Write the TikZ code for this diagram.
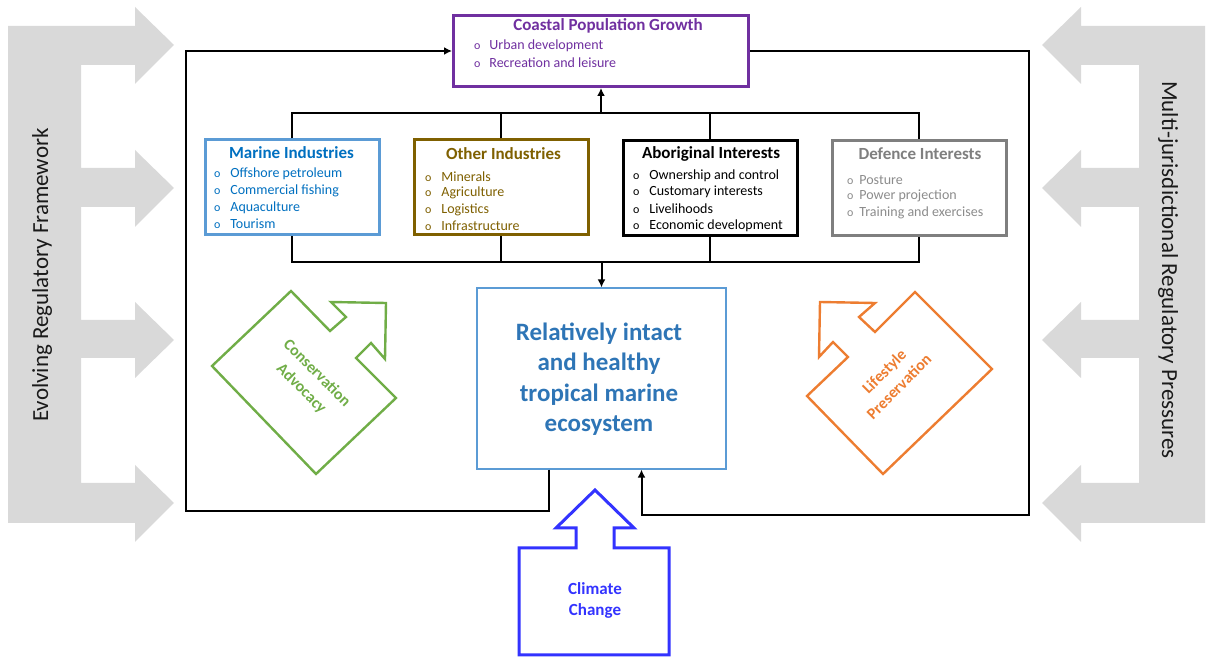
\documentclass[tikz,border=0pt]{standalone}
\usepackage{fontspec}
\setmainfont{Carlito}
\usetikzlibrary{arrows.meta,calc}
\definecolor{mbord}{HTML}{5B9BD5}
\definecolor{mtext}{HTML}{0070C0}
\definecolor{gold}{HTML}{7F6000}
\definecolor{dgray}{HTML}{7F7F7F}
\definecolor{lgray}{HTML}{8C8C8C}
\definecolor{purp}{HTML}{7030A0}
\definecolor{ecot}{HTML}{2E75B6}
\definecolor{cgreen}{HTML}{70AD47}
\definecolor{corange}{HTML}{ED7D31}
\definecolor{cblue}{HTML}{3333FF}
\definecolor{barg}{HTML}{D9D9D9}
\definecolor{sidetxt}{HTML}{1A1A1A}
\newcommand{\bul}[1]{\llap{{\fontsize{6}{6}\selectfont o}\hspace{#1}}}
\begin{document}
\begin{tikzpicture}[x=0.5pt,y=-0.5pt,
  conn/.style={draw=black,line width=1pt},
  arr/.style={-{Latex[length=4pt,width=4pt]}},
  ibox/.style={draw,line width=1.5pt,minimum width=87pt,minimum height=47.5pt,inner sep=0pt,fill=white},
  ttl/.style={font=\fontsize{8.5}{10}\selectfont\bfseries,inner sep=0pt},
  itm/.style={font=\fontsize{7}{8.4}\selectfont,inner sep=0pt,anchor=west},
  sidet/.style={font=\fontsize{11.5}{13}\selectfont,text=sidetxt,inner sep=0pt},
  rott/.style={font=\fontsize{8}{11}\selectfont\bfseries,align=center,inner sep=0pt}
]
\useasboundingbox (0,0) rectangle (1206,657);

% left gray framework shape
\fill[barg] (8,26) -- (135,26) -- (135,7) -- (174,45) -- (135,84) -- (135,65) -- (81,65)
  -- (81,168) -- (135,168) -- (135,150) -- (174,188) -- (135,227) -- (135,207) -- (81,207)
  -- (81,320) -- (135,320) -- (135,302) -- (174,340) -- (135,378) -- (135,358) -- (81,358)
  -- (81,483) -- (135,483) -- (135,465) -- (174,503) -- (135,542) -- (135,523) -- (8,523) -- cycle;
% right gray pressures shape
\fill[barg] (1205,26) -- (1081,26) -- (1081,7) -- (1042,45) -- (1081,84) -- (1081,65) -- (1139,65)
  -- (1139,168) -- (1081,168) -- (1081,150) -- (1042,188) -- (1081,227) -- (1081,207) -- (1139,207)
  -- (1139,320) -- (1081,320) -- (1081,302) -- (1042,340) -- (1081,378) -- (1081,358) -- (1139,358)
  -- (1139,483) -- (1081,483) -- (1081,465) -- (1042,503) -- (1081,542) -- (1081,523) -- (1205,523) -- cycle;

\node[sidet,rotate=90] (leftT) at (42,275) {Evolving Regulatory Framework};
\node[sidet,rotate=-90] (rightT) at (1168,270) {Multi-jurisdictional Regulatory Pressures};

% main boxes
\node[ibox,draw=purp,minimum width=147.5pt,minimum height=35.5pt] (coastal) at (601,51) {};
\node[ibox,draw=mbord] (marine) at (292,187.5) {};
\node[ibox,draw=gold] (other) at (501,187.5) {};
\node[ibox,draw=black] (abor) at (710,188) {};
\node[ibox,draw=dgray] (defence) at (919,188) {};
\node[draw=mbord,line width=0.6pt,minimum width=124.5pt,minimum height=90.5pt,inner sep=0pt] (eco) at (601.5,378.5) {};

% bus connectors
\coordinate (ub) at (601,113);
\coordinate (lb) at (601.5,262);
\draw[conn] (marine.north) |- (defence.north |- ub) -- (defence.north);
\draw[conn] (other.north) -- (other.north |- ub);
\draw[conn] (abor.north) -- (abor.north |- ub);
\draw[conn,arr] (ub) -- (coastal.south);
\draw[conn] (marine.south) |- (defence.south |- lb) -- (defence.south);
\draw[conn] (other.south) -- (other.south |- lb);
\draw[conn] (abor.south) -- (abor.south |- lb);
\draw[conn,arr] (lb) -- (eco.north);

% outer loop connectors
\draw[conn,arr] ($(eco.south)+(-52.5,0)$) |- (186,511) |- (coastal.west);
\draw[conn,arr] (coastal.east) -| (1029,515) -| ($(eco.south)+(40,0)$);

% coastal texts
\node[ttl,text=purp] (coastalT) at (608,26) {Coastal Population Growth};
\node[itm,text=purp] (c1) at (489,46) {\bul{4.5pt}Urban development};
\node[itm,text=purp] (c2) at (489,63) {\bul{4.5pt}Recreation and leisure};

% marine texts
\node[ttl,text=mtext] (marineT) at (291.5,153) {Marine Industries};
\node[itm,text=mtext] (m1) at (230,174) {\bul{5pt}Offshore petroleum};
\node[itm,text=mtext] (m2) at (230,191) {\bul{5pt}Commercial fishing};
\node[itm,text=mtext] (m3) at (230,208) {\bul{5pt}Aquaculture};
\node[itm,text=mtext] (m4) at (230,224) {\bul{5pt}Tourism};

% other industries
\node[ttl,text=gold] (otherT) at (503.5,154) {Other Industries};
\node[itm,text=gold] (o1) at (441,177) {\bul{5pt}Minerals};
\node[itm,text=gold] (o2) at (441,193) {\bul{5pt}Agriculture};
\node[itm,text=gold] (o3) at (441,210) {\bul{5pt}Logistics};
\node[itm,text=gold] (o4) at (441,226) {\bul{5pt}Infrastructure};

% aboriginal
\node[ttl,text=black] (aborT) at (711,154) {Aboriginal Interests};
\node[itm,text=black] (a1) at (649,176) {\bul{5pt}Ownership and control};
\node[itm,text=black] (a2) at (649,192) {\bul{5pt}Customary interests};
\node[itm,text=black] (a3) at (649,209) {\bul{5pt}Livelihoods};
\node[itm,text=black] (a4) at (649,226) {\bul{5pt}Economic development};

% defence
\node[ttl,text=dgray] (defT) at (920,154) {Defence Interests};
\node[itm,text=lgray] (d1) at (859,180) {\bul{3pt}Posture};
\node[itm,text=lgray] (d2) at (859,196) {\bul{3pt}Power projection};
\node[itm,text=lgray] (d3) at (859,213) {\bul{3pt}Training and exercises};

% ecosystem text
\node[font=\fontsize{12.5}{15.2}\selectfont\bfseries,text=ecot,align=center,inner sep=0pt] (ecoT) at (599,379)
  {Relatively intact\\and healthy\\tropical marine\\ecosystem};

% conservation advocacy arrow
\draw[cgreen,line width=1.2pt,line join=miter] (291,291) -- (330,331) -- (346,317) -- (331,302) -- (386,303)
  -- (385,359) -- (371,343) -- (356,358) -- (396,398) -- (316,474) -- (212,366) -- cycle;
\node[rott,text=cgreen,rotate=-45] (consT) at (309,381) {Conservation\\Advocacy};

% lifestyle preservation arrow
\draw[corange,line width=1.2pt,line join=miter] (915,292) -- (992,369) -- (883,474) -- (807,396) -- (848,357)
  -- (833,342) -- (819,357) -- (820,302) -- (875,303) -- (859,317) -- (875,332) -- cycle;
\node[rott,text=corange,rotate=45,font=\fontsize{8}{10.5}\selectfont\bfseries] (lifeT) at (891.5,379) {Lifestyle\\Preservation};

% climate change arrow
\draw[cblue,line width=1.5pt,line join=miter] (519,655) -- (519,548) -- (576,548) -- (576,528) -- (556,528)
  -- (595,490) -- (634,528) -- (614,528) -- (614,548) -- (669,548) -- (669,655) -- cycle;
\node[font=\fontsize{8.5}{10.5}\selectfont\bfseries,text=cblue,align=center,inner sep=0pt] (climT) at (595,600.5) {Climate\\Change};
\end{tikzpicture}
\end{document}
